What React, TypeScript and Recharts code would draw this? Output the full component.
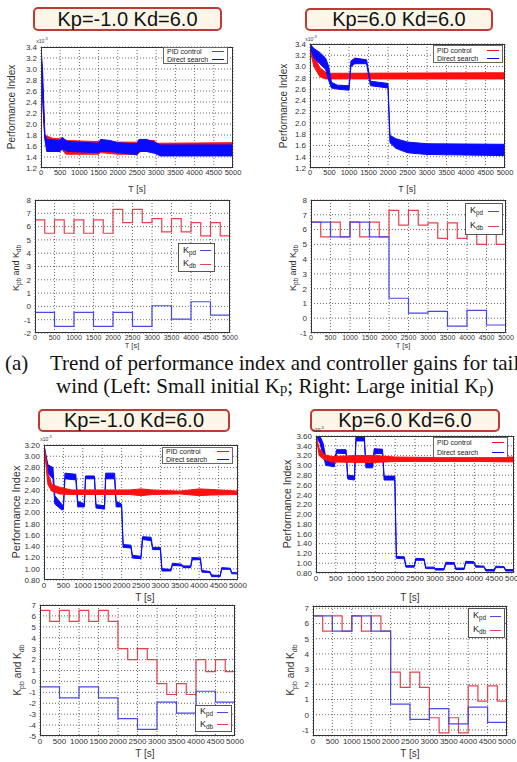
import React from 'react';
import { ComposedChart, Area, Line, XAxis, YAxis, CartesianGrid } from 'recharts';

type Band = [number, number, number];

// ---------- data ----------
const timeTicks = [0, 500, 1000, 1500, 2000, 2500, 3000, 3500, 4000, 4500, 5000];
const piTicksA = [1.2, 1.4, 1.6, 1.8, 2.0, 2.2, 2.4, 2.6, 2.8, 3.0, 3.2, 3.4];
const piTicksB = [0.8, 1.0, 1.2, 1.4, 1.6, 1.8, 2.0, 2.2, 2.4, 2.6, 2.8, 3.0, 3.2];
const piTicksC = [0.8, 1.0, 1.2, 1.4, 1.6, 1.8, 2.0, 2.2, 2.4, 2.6, 2.8, 3.0, 3.2, 3.4, 3.6];
const gainTicks3 = [-2, -1, 0, 1, 2, 3, 4, 5, 6, 7, 8];
const gainTicks4 = [-1, 0, 1, 2, 3, 4, 5, 6, 7, 8];
const gainTicks7 = [-5, -4, -3, -2, -1, 0, 1, 2, 3, 4, 5, 6, 7];
const gainTicks8 = [-1, 0, 1, 2, 3, 4, 5, 6, 7];

// performance index bands [t, low, high] (x10^-3)
const pid1: Band[] = [[0, 3.3, 3.35], [60, 2.2, 2.4], [100, 1.75, 1.8], [150, 1.6, 1.78], [300, 1.58, 1.74], [500, 1.57, 1.73], [560, 1.52, 1.72], [650, 1.45, 1.7], [1500, 1.45, 1.68], [1550, 1.48, 1.68], [2000, 1.45, 1.67], [2500, 1.45, 1.67], [2600, 1.5, 1.7], [2950, 1.5, 1.7], [3000, 1.45, 1.65], [5000, 1.45, 1.66]];
const ds1: Band[] = [[0, 3.35, 3.4], [40, 2.5, 3.0], [100, 1.72, 1.82], [150, 1.5, 1.72], [500, 1.5, 1.7], [550, 1.55, 1.76], [620, 1.52, 1.72], [700, 1.5, 1.68], [1500, 1.48, 1.65], [1550, 1.5, 1.72], [1800, 1.5, 1.7], [2000, 1.48, 1.66], [2500, 1.44, 1.64], [2550, 1.5, 1.72], [2750, 1.5, 1.72], [3000, 1.46, 1.66], [3100, 1.42, 1.62], [5000, 1.42, 1.62]];

const pid2: Band[] = [[0, 3.3, 3.4], [100, 3.0, 3.2], [250, 2.82, 2.98], [400, 2.78, 2.9], [500, 2.78, 2.88], [5000, 2.78, 2.89]];
const ds2: Band[] = [[0, 3.35, 3.4], [100, 3.15, 3.32], [250, 3.05, 3.25], [400, 2.95, 3.15], [480, 2.75, 3.0], [550, 2.62, 2.72], [700, 2.6, 2.67], [1000, 2.58, 2.66], [1050, 3.0, 3.1], [1150, 3.05, 3.15], [1450, 3.05, 3.12], [1550, 2.66, 2.74], [2000, 2.62, 2.7], [2050, 1.65, 1.78], [2200, 1.55, 1.72], [2500, 1.47, 1.66], [3000, 1.44, 1.63], [5000, 1.42, 1.62]];

const pid5: Band[] = [[0, 3.2, 3.2], [100, 2.5, 2.7], [200, 2.38, 2.5], [400, 2.33, 2.45], [700, 2.32, 2.4], [2200, 2.32, 2.4], [2500, 2.3, 2.42], [2800, 2.32, 2.4], [3500, 2.33, 2.38], [4000, 2.3, 2.42], [4300, 2.31, 2.41], [5000, 2.32, 2.38]];
const ds5: Band[] = [[0, 3.2, 3.2], [100, 2.7, 2.85], [230, 2.6, 2.8], [280, 2.15, 2.3], [450, 2.05, 2.15], [500, 2.05, 2.12], [540, 2.6, 2.7], [820, 2.58, 2.68], [870, 2.1, 2.2], [1040, 2.1, 2.15], [1070, 2.6, 2.65], [1300, 2.6, 2.65], [1340, 2.08, 2.14], [1560, 2.06, 2.12], [1590, 2.6, 2.7], [1820, 2.6, 2.7], [1860, 2.1, 2.2], [2000, 2.1, 2.15], [2040, 1.38, 1.43], [2240, 1.37, 1.42], [2280, 1.19, 1.24], [2500, 1.18, 1.22], [2540, 1.52, 1.57], [2760, 1.5, 1.56], [2800, 1.34, 1.38], [3000, 1.34, 1.38], [3040, 0.96, 1.0], [3270, 0.96, 0.99], [3310, 1.06, 1.1], [3550, 1.05, 1.08], [3590, 1.02, 1.05], [3780, 1.02, 1.05], [3820, 1.16, 1.2], [4030, 1.16, 1.19], [4070, 0.94, 0.97], [4280, 0.93, 0.95], [4320, 0.86, 0.89], [4540, 0.86, 0.88], [4580, 0.99, 1.02], [4800, 0.99, 1.01], [4840, 0.91, 0.93], [5000, 0.91, 0.93]];

const pid6: Band[] = [[0, 3.6, 3.6], [80, 3.2, 3.35], [200, 3.12, 3.22], [400, 3.07, 3.18], [1000, 3.06, 3.2], [1500, 3.06, 3.2], [2000, 3.08, 3.17], [3000, 3.08, 3.16], [4000, 3.08, 3.17], [5000, 3.07, 3.17]];
const ds6: Band[] = [[0, 3.6, 3.6], [100, 3.45, 3.6], [180, 3.2, 3.45], [250, 3.0, 3.15], [460, 2.97, 3.05], [520, 3.25, 3.32], [760, 3.24, 3.32], [800, 2.72, 2.8], [970, 2.7, 2.78], [1010, 3.5, 3.6], [1220, 3.5, 3.6], [1260, 2.95, 3.05], [1430, 2.95, 3.05], [1470, 3.24, 3.34], [1680, 3.24, 3.33], [1720, 2.7, 2.78], [1990, 2.7, 2.78], [2030, 1.1, 1.14], [2230, 1.09, 1.13], [2270, 0.92, 0.95], [2480, 0.92, 0.95], [2520, 1.06, 1.1], [2730, 1.06, 1.09], [2770, 0.89, 0.92], [2980, 0.89, 0.92], [3020, 0.86, 0.89], [3230, 0.86, 0.89], [3280, 0.98, 1.02], [3490, 0.98, 1.01], [3530, 0.87, 0.9], [3740, 0.87, 0.9], [3780, 1.0, 1.04], [3990, 1.0, 1.03], [4030, 0.92, 0.95], [4240, 0.92, 0.94], [4290, 0.84, 0.87], [4500, 0.84, 0.87], [4540, 0.91, 0.94], [4750, 0.91, 0.93], [4790, 0.84, 0.87], [5000, 0.84, 0.87]];

// controller gains: Kdb changes every 250 s, Kpd every 500 s
const kdb3 = [6.5, 5.5, 6.5, 5.5, 6.5, 5.5, 6.5, 5.5, 7.3, 6.3, 7.3, 6.3, 6.6, 5.6, 6.6, 5.6, 6.3, 5.3, 6.3, 5.3];
const kpd3 = [-0.45, -1.5, -0.45, -1.5, -0.45, -1.5, 0.05, -0.95, 0.35, -0.65];
const kdb4 = [6.5, 5.5, 6.5, 5.5, 6.5, 5.5, 6.5, 5.5, 7.3, 6.3, 7.3, 6.3, 6.45, 5.4, 6.45, 5.4, 6.0, 5.0, 6.0, 5.0];
const kpd4 = [6.5, 5.5, 6.5, 5.5, 1.35, 0.35, 0.47, -0.53, 0.53, -0.46];
const kdb7 = [6.5, 5.5, 6.5, 5.5, 6.5, 5.5, 6.5, 5.5, 3.0, 2.0, 3.0, 2.0, -0.2, -1.2, -0.2, -1.2, 2.0, 0.9, 2.0, 0.9];
const kpd7 = [-0.5, -1.5, -0.5, -1.5, -3.4, -4.4, -1.9, -2.9, -0.9, -1.9];
const kdb8 = [6.5, 5.5, 6.5, 5.5, 6.5, 5.5, 6.5, 5.5, 2.8, 1.8, 2.8, 1.8, -0.2, -1.2, -0.2, -1.2, 1.9, 0.9, 1.9, 0.9];
const kpd8 = [6.5, 5.5, 6.5, 5.5, 0.7, -0.3, 0.4, -0.6, 0.5, -0.5];

const titleLeft = 'Kp=-1.0 Kd=6.0';
const titleRight = 'Kp=6.0 Kd=6.0';

// ---------- helpers ----------
const RED = '#ff1010';
const BLUE = '#0a0aff';
const GRED = '#e8404c';
const GBLUE = '#4848e8';
const SANS = '"Liberation Sans", Arial, Helvetica, sans-serif';
const SERIF = '"Liberation Serif", "Times New Roman", serif';

const toBand = (b: Band[]) => b.map(([t, lo, hi]) => ({ t, v: [lo, hi] }));
const toSteps = (vals: number[], step: number) => {
  const d = vals.map((v, i) => ({ t: i * step, v }));
  d.push({ t: 5000, v: vals[vals.length - 1] });
  return d;
};

type Rect = { x: number; y: number; w: number; h: number };
const L = 30, T = 6, R = 10, B = 14;

function Plot(props: { r: Rect; domain: [number, number]; ticks: number[]; dp: number; xFont: number; yFont: number; children: React.ReactNode }) {
  const { r, domain, ticks, dp, xFont, yFont, children } = props;
  return (
    <div style={{ position: 'absolute', left: r.x - L, top: r.y - T }}>
      <ComposedChart width={r.w + L + R} height={r.h + T + B} margin={{ top: T, right: R, left: 0, bottom: 0 }}>
        <CartesianGrid stroke="#444" strokeDasharray="1 2" strokeWidth={0.8} />
        <XAxis type="number" dataKey="t" domain={[0, 5000]} ticks={timeTicks} interval={0} height={B} allowDataOverflow
          tick={{ fontSize: xFont, fill: '#333', fontFamily: SANS }} tickLine={false} tickSize={2} axisLine={false} tickMargin={0} />
        <YAxis type="number" domain={domain} ticks={ticks} interval={0} width={L} allowDataOverflow
          tickFormatter={(v: number) => v.toFixed(dp)}
          tick={{ fontSize: yFont, fill: '#333', fontFamily: SANS }} tickLine={false} tickSize={2} axisLine={false} tickMargin={2} />
        {children}
      </ComposedChart>
      <div style={{ position: 'absolute', left: L, top: T, width: r.w, height: r.h, border: '1px solid #333', boxSizing: 'border-box', pointerEvents: 'none' }} />
    </div>
  );
}

function Title({ x, y, w, h, text }: { x: number; y: number; w: number; h: number; text: string }) {
  return (
    <div style={{
      position: 'absolute', left: x, top: y, width: w, height: h, boxSizing: 'border-box',
      border: '2px solid #c03a35', borderRadius: 5, background: '#fcf6e8',
      fontFamily: SANS, fontSize: 20, lineHeight: `${h - 4}px`, textAlign: 'center', color: '#111', whiteSpace: 'nowrap'
    }}>{text}</div>
  );
}

function Txt({ cx, cy, text, size, rot }: { cx: number; cy: number; text: React.ReactNode; size: number; rot?: boolean }) {
  return (
    <div style={{
      position: 'absolute', left: cx, top: cy, transform: `translate(-50%,-50%)${rot ? ' rotate(-90deg)' : ''}`,
      fontFamily: SANS, fontSize: size, color: '#333', whiteSpace: 'nowrap', lineHeight: 1
    }}>{text}</div>
  );
}

function PerfLegend({ x, y, w, h }: Rect) {
  const row = (label: string, color: string) => (
    <div style={{ display: 'flex', alignItems: 'center', height: (h - 2) / 2 }}>
      <span style={{ flex: 1, paddingLeft: 3, whiteSpace: 'nowrap' }}>{label}</span>
      <span style={{ width: 12, height: 0, borderTop: `1.5px solid ${color}`, marginRight: 3 }} />
    </div>
  );
  return (
    <div style={{ position: 'absolute', left: x, top: y, width: w, height: h, boxSizing: 'border-box', border: '1px solid #666', background: '#fff', fontFamily: SANS, fontSize: 7, color: '#222', lineHeight: 1 }}>
      {row('PID control', RED)}
      {row('Direct search', BLUE)}
    </div>
  );
}

const K = (sub: string) => <span>K<sub style={{ fontSize: '0.7em', verticalAlign: '-0.3em' }}>{sub}</sub></span>;

function GainLegend({ x, y, w, h }: Rect) {
  const row = (sub: string, color: string) => (
    <div style={{ display: 'flex', alignItems: 'center', height: (h - 2) / 2 }}>
      <span style={{ flex: 1, paddingLeft: 4 }}>{K(sub)}</span>
      <span style={{ width: 11, height: 0, borderTop: `1.5px solid ${color}`, marginRight: 3 }} />
    </div>
  );
  return (
    <div style={{ position: 'absolute', left: x, top: y, width: w, height: h, boxSizing: 'border-box', border: '1px solid #555', background: '#fff', fontFamily: SANS, fontSize: 9, color: '#222', lineHeight: 1 }}>
      {row('pd', GBLUE)}
      {row('db', GRED)}
    </div>
  );
}

function perfSeries(pid: Band[], ds: Band[], blueOnTop: boolean) {
  const red = <Area key="pid" data={toBand(pid)} dataKey="v" type="linear" stroke={RED} strokeWidth={1} fill={RED} fillOpacity={1} isAnimationActive={false} dot={false} activeDot={false} />;
  const blue = <Area key="ds" data={toBand(ds)} dataKey="v" type="linear" stroke={BLUE} strokeWidth={1} fill={BLUE} fillOpacity={1} isAnimationActive={false} dot={false} activeDot={false} />;
  return blueOnTop ? [red, blue] : [blue, red];
}

function gainSeries(kpd: number[], kdb: number[]) {
  return [
    <Line key="kdb" data={toSteps(kdb, 250)} dataKey="v" type="stepAfter" stroke={GRED} strokeWidth={1.2} dot={false} activeDot={false} isAnimationActive={false} />,
    <Line key="kpd" data={toSteps(kpd, 500)} dataKey="v" type="stepAfter" stroke={GBLUE} strokeWidth={1.2} dot={false} activeDot={false} isAnimationActive={false} />,
  ];
}

const P1: Rect = { x: 41, y: 47, w: 192, h: 121 };
const P2: Rect = { x: 310, y: 44, w: 195, h: 124 };
const P3: Rect = { x: 35, y: 200, w: 195, h: 133 };
const P4: Rect = { x: 311, y: 200, w: 195, h: 133 };
const P5: Rect = { x: 44, y: 445, w: 194, h: 135 };
const P6: Rect = { x: 316, y: 436, w: 198, h: 137 };
const P7: Rect = { x: 40, y: 605, w: 195, h: 131 };
const P8: Rect = { x: 313, y: 606, w: 194, h: 130 };

const ylabK = <span>{K('pb')} and {K('db')}</span>;
const capStyle: React.CSSProperties = { position: 'absolute', fontFamily: SERIF, fontSize: 21, lineHeight: '21px', color: '#111', whiteSpace: 'nowrap' };

export default function App() {
  return (
    <div style={{ position: 'absolute', left: 0, top: 0, width: 517, height: 762, overflow: 'hidden', background: '#fff' }}>
      <Title x={33} y={7} w={189} h={24} text={titleLeft} />
      <Title x={305} y={8} w={188} h={23} text={titleRight} />
      <Title x={38} y={409} w={192} h={23} text={titleLeft} />
      <Title x={310} y={409} w={190} h={23} text={titleRight} />

      <Plot r={P1} domain={[1.2, 3.4]} ticks={piTicksA} dp={1} xFont={7.5} yFont={8}>{perfSeries(pid1, ds1, true)}</Plot>
      <Plot r={P2} domain={[1.2, 3.4]} ticks={piTicksA} dp={1} xFont={7.5} yFont={8}>{perfSeries(pid2, ds2, true)}</Plot>
      <Plot r={P3} domain={[-2, 8]} ticks={gainTicks3} dp={0} xFont={7} yFont={8}>{gainSeries(kpd3, kdb3)}</Plot>
      <Plot r={P4} domain={[-1, 8]} ticks={gainTicks4} dp={0} xFont={7} yFont={8}>{gainSeries(kpd4, kdb4)}</Plot>
      <Plot r={P5} domain={[0.8, 3.2]} ticks={piTicksB} dp={2} xFont={8} yFont={8}>{perfSeries(pid5, ds5, false)}</Plot>
      <Plot r={P6} domain={[0.8, 3.6]} ticks={piTicksC} dp={2} xFont={8} yFont={8}>{perfSeries(pid6, ds6, false)}</Plot>
      <Plot r={P7} domain={[-5, 7]} ticks={gainTicks7} dp={0} xFont={8} yFont={8}>{gainSeries(kpd7, kdb7)}</Plot>
      <Plot r={P8} domain={[-1.4, 7.15]} ticks={gainTicks8} dp={0} xFont={8} yFont={8}>{gainSeries(kpd8, kdb8)}</Plot>

      <PerfLegend x={163} y={47} w={65} h={17} />
      <PerfLegend x={433} y={45} w={70} h={18} />
      <PerfLegend x={162} y={447} w={71} h={17} />
      <PerfLegend x={433} y={437} w={75} h={21} />

      <GainLegend x={178} y={243} w={37} h={29} />
      <GainLegend x={465} y={203} w={38} h={32} />
      <GainLegend x={195} y={705} w={37} h={27} />
      <GainLegend x={468} y={608} w={37} h={30} />

      <Txt cx={42} cy={40} text={<span>x10<sup style={{ fontSize: '0.8em' }}>-3</sup></span>} size={5} />
      <Txt cx={311} cy={38} text={<span>x10<sup style={{ fontSize: '0.8em' }}>-3</sup></span>} size={5} />
      <Txt cx={46} cy={438} text={<span>x10<sup style={{ fontSize: '0.8em' }}>-3</sup></span>} size={5} />
      <Txt cx={318} cy={429} text={<span>x10<sup style={{ fontSize: '0.8em' }}>-3</sup></span>} size={5} />

      <Txt cx={12} cy={107} text="Performance Index" size={10} rot />
      <Txt cx={284} cy={106} text="Performance Index" size={10} rot />
      <Txt cx={17} cy={268} text={ylabK} size={9} rot />
      <Txt cx={294} cy={268} text={ylabK} size={9} rot />
      <Txt cx={16} cy={512} text="Performance Index" size={11} rot />
      <Txt cx={287} cy={504} text="Performance Index" size={10.5} rot />
      <Txt cx={19} cy={670} text={ylabK} size={10} rot />
      <Txt cx={292} cy={670} text={ylabK} size={10} rot />

      <Txt cx={137} cy={189} text="T [s]" size={9} />
      <Txt cx={407} cy={189} text="T [s]" size={9} />
      <Txt cx={132} cy={346} text="T [s]" size={7.5} />
      <Txt cx={403} cy={346} text="T [s]" size={7.5} />
      <Txt cx={145} cy={598} text="T [s]" size={10} />
      <Txt cx={410} cy={598} text="T [s]" size={10} />
      <Txt cx={145} cy={754} text="T [s]" size={10} />
      <Txt cx={410} cy={754} text="T [s]" size={10} />

      <div style={{ ...capStyle, left: 5, top: 353 }}>(a)</div>
      <div style={{ ...capStyle, left: 50, top: 353 }}>Trend of performance index and controller gains for tail</div>
      <div style={{ ...capStyle, left: 56, top: 376 }}>
        wind (Left: Small initial K<span style={{ fontSize: '0.7em' }}>p</span>; Right: Large initial K<span style={{ fontSize: '0.7em' }}>p</span>)
      </div>
    </div>
  );
}
